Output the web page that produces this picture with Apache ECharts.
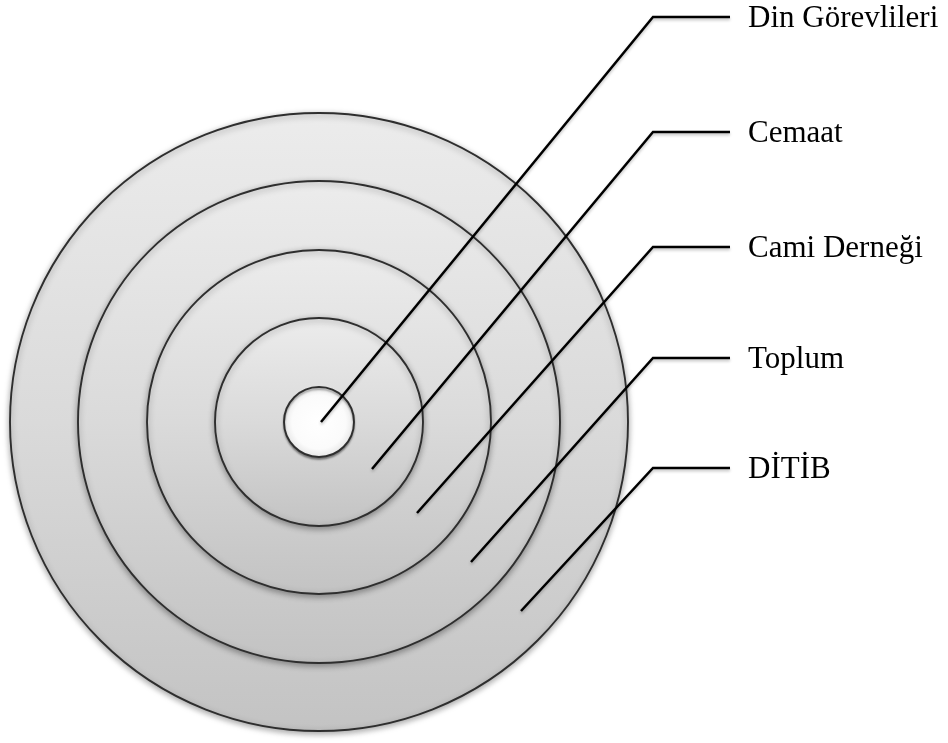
<!DOCTYPE html>
<html>
<head>
<meta charset="utf-8">
<script src="https://cdn.jsdelivr.net/npm/echarts@6/dist/echarts.min.js"></script>
<style>
  html, body { margin: 0; padding: 0; background: #fff; }
  #main { width: 948px; height: 743px; }
</style>
</head>
<body>
<div id="main"></div>
<script>
// diagram units, centre of the rings at (0, 0), y upward
let ringNames = ['DİTİB', 'Toplum', 'Cami Derneği', 'Cemaat', 'Din Görevlileri'];
let ringRadius = [309, 241, 172, 104, 35];
// leader line: start inside ring -> bend -> end of the horizontal tick
let lineStart = [[202, -189], [152, -140], [98, -91], [53, -47], [2, 0]];
let lineBend = [[334, -46], [334, 64], [334, 175], [334, 290], [334, 405]];
let lineEnd = [[411, -46], [411, 64], [411, 175], [411, 290], [411, 405]];

let chart = echarts.init(document.getElementById('main'));

let ringData = ringRadius.map(function (r, i) { return [0, 0, r, i]; });
let leaderData = ringNames.map(function (n, i) {
  return [lineStart[i][0], lineStart[i][1], lineBend[i][0], lineBend[i][1], lineEnd[i][0], lineEnd[i][1], i];
});

chart.setOption({
  animation: false,
  grid: { left: 0, right: 0, top: 0, bottom: 0 },
  xAxis: { type: 'value', min: -319, max: 629, show: false },
  yAxis: { type: 'value', min: -321, max: 422, show: false },
  series: [
    {
      // concentric rings, biggest first
      type: 'custom',
      coordinateSystem: 'cartesian2d',
      data: ringData,
      renderItem: function (params, api) {
        let c = api.coord([api.value(0), api.value(1)]);
        let r = api.size([api.value(2), 0])[0];
        let last = api.value(3) === ringRadius.length - 1;
        let fill = last
          ? new echarts.graphic.RadialGradient(0.5, 0.5, 0.5, [
              { offset: 0, color: '#ffffff' },
              { offset: 0.75, color: '#fbfbfb' },
              { offset: 1, color: '#e6e6e6' }
            ])
          : new echarts.graphic.LinearGradient(0, 0, 0, 1, [
              { offset: 0, color: '#ececec' },
              { offset: 0.5, color: '#dadada' },
              { offset: 1, color: '#c3c3c3' }
            ]);
        return {
          type: 'circle',
          shape: { cx: c[0], cy: c[1], r: r },
          style: {
            fill: fill,
            stroke: '#2e2e2e',
            lineWidth: 1.9,
            shadowBlur: last ? 2 : 6,
            shadowOffsetY: 2,
            shadowColor: 'rgba(0,0,0,0.35)'
          }
        };
      }
    },
    {
      // leader lines with labels
      type: 'custom',
      coordinateSystem: 'cartesian2d',
      data: leaderData,
      renderItem: function (params, api) {
        let p0 = api.coord([api.value(0), api.value(1)]);
        let p1 = api.coord([api.value(2), api.value(3)]);
        let p2 = api.coord([api.value(4), api.value(5)]);
        let name = ringNames[api.value(6)];
        return {
          type: 'group',
          children: [
            {
              type: 'polyline',
              shape: { points: [p0, p1, p2] },
              style: {
                fill: null,
                stroke: '#000',
                lineWidth: 2.5,
                shadowBlur: 3,
                shadowOffsetY: 2,
                shadowColor: 'rgba(0,0,0,0.25)'
              }
            },
            {
              type: 'text',
              x: p2[0] + 18,
              y: p2[1] + 2,
              style: {
                text: name,
                fill: '#000',
                font: '31px "Liberation Serif", "DejaVu Serif", serif',
                align: 'left',
                verticalAlign: 'middle'
              }
            }
          ]
        };
      }
    }
  ]
});
</script>
</body>
</html>
